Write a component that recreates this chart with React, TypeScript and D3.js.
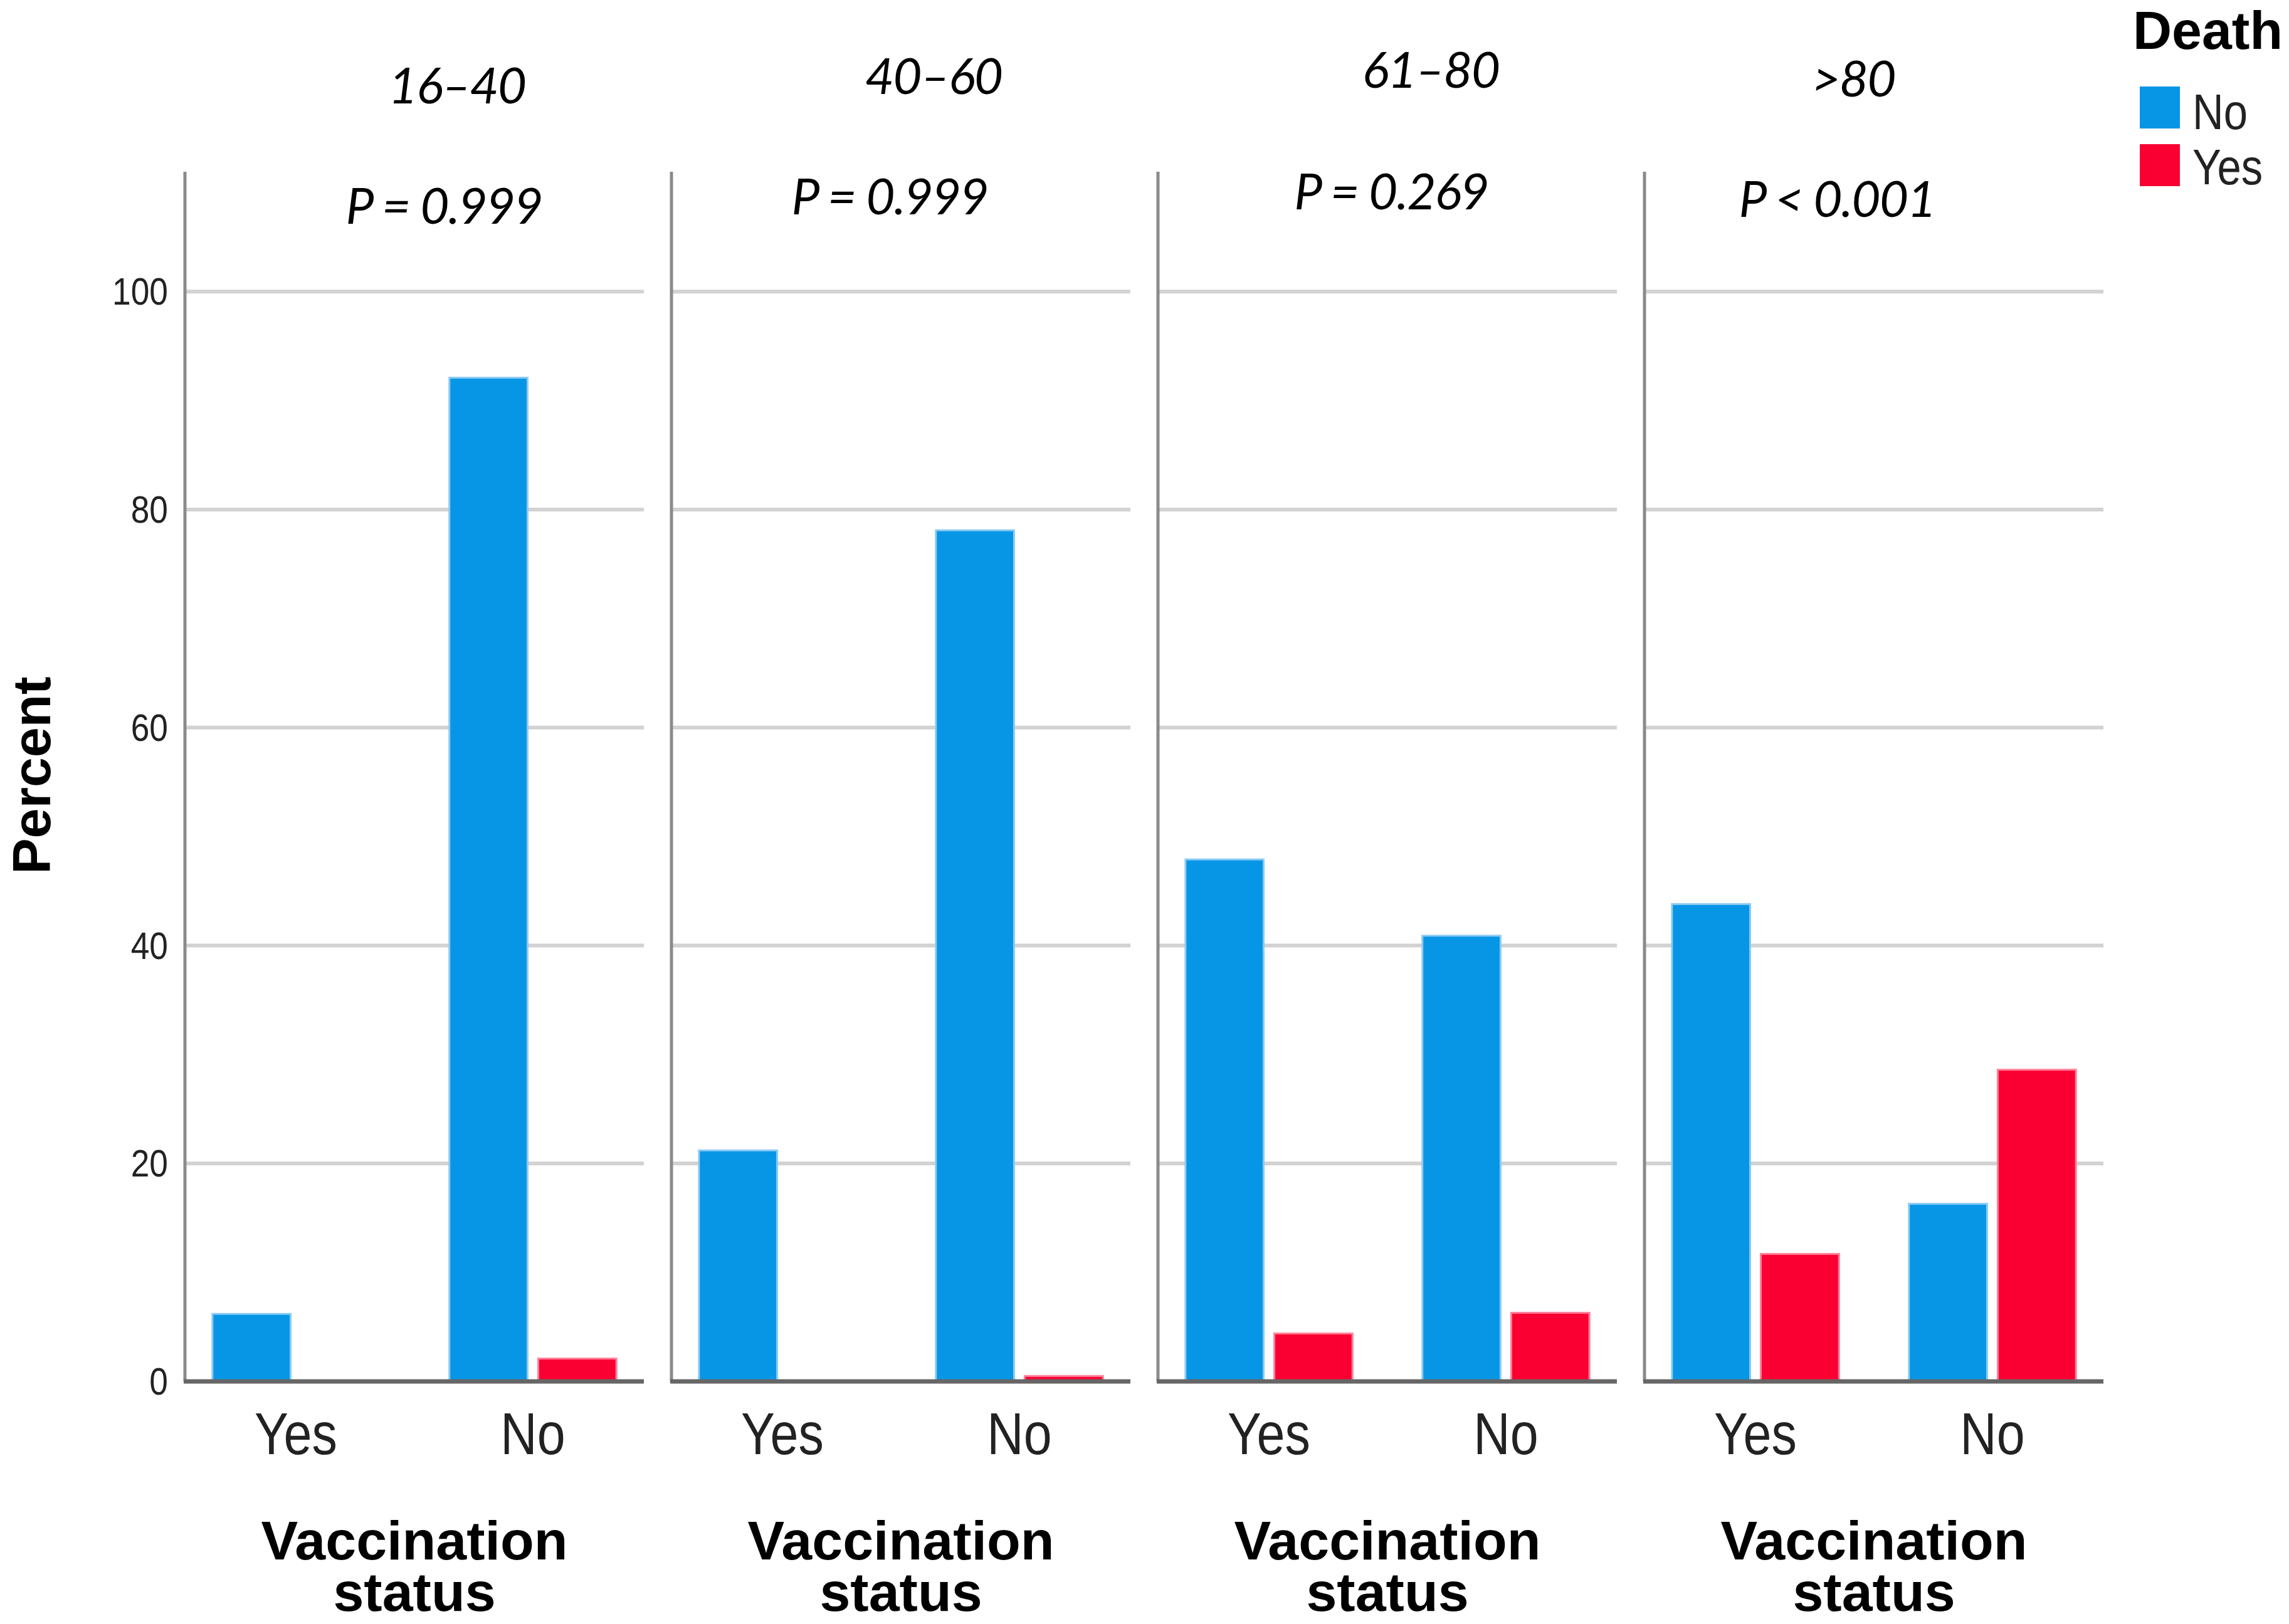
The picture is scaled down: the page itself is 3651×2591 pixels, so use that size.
import React from "react";
import * as d3 from "d3";

const ageGroups = ["16–40", "40–60", "61–80", ">80"];
const pLabels = ["P = 0.999", "P = 0.999", "P = 0.269", "P < 0.001"];
const vaccination = ["Yes", "No"];
const deathLevels = ["No", "Yes"];
// percent by panel, [vaccinated Yes, vaccinated No]
const deathNo = [
  [6.2, 92.1],
  [21.2, 78.1],
  [47.9, 40.9],
  [43.8, 16.3],
];
const deathYes = [
  [0, 2.1],
  [0, 0.5],
  [4.4, 6.3],
  [11.7, 28.6],
];
const yTicks = [0, 20, 40, 60, 80, 100];

// label nudges (px) relative to panel centre
const titleShift = [
  { dx: 68, y: 165 },
  { dx: 52, y: 150 },
  { dx: 69, y: 140 },
  { dx: -33, y: 154 },
];
const pShift = [
  { dx: 47, y: 357 },
  { dx: -18, y: 342 },
  { dx: 6, y: 334 },
  { dx: -59, y: 346 },
];

const W = 3651;
const H = 2591;
const colors: Record<string, string> = { No: "#0796E6", Yes: "#FA0032" };
const edge: Record<string, string> = { No: "#8CCBF3", Yes: "#FF7F99" };

const sans = "'Liberation Sans', Arial, sans-serif";
const italic = "Lato, 'Open Sans', sans-serif";

// condensed light-ish label (the SPSS output uses a narrow face)
const Narrow: React.FC<{
  x: number;
  y: number;
  size: number;
  anchor?: string;
  children: React.ReactNode;
}> = ({ x, y, size, anchor = "start", children }) => (
  <g transform={`translate(${x},${y}) scale(0.86,1)`}>
    <text
      textAnchor={anchor}
      fontFamily={sans}
      fontSize={size}
      fill="#222"
    >
      {children}
    </text>
  </g>
);

const App: React.FC = () => {
  const y = d3.scaleLinear().domain([0, 111]).range([2204, 274]);
  const panel = d3
    .scaleBand<string>()
    .domain(ageGroups)
    .range([295, 3355])
    .paddingInner(0.0567);
  const pw = panel.bandwidth();
  const group = d3
    .scaleBand<string>()
    .domain(vaccination)
    .range([0, pw])
    .paddingInner(0.295)
    .paddingOuter(0.116);
  const sub = d3
    .scaleBand<string>()
    .domain(deathLevels)
    .range([0, group.bandwidth()])
    .paddingInner(0.12);

  return (
    <svg
      width={W}
      height={H}
      style={{ position: "absolute", left: 0, top: 0, background: "#fff" }}
    >
      {/* y label */}
      <text
        transform={`translate(80,${1237}) rotate(-90)`}
        textAnchor="middle"
        fontFamily={sans}
        fontWeight="bold"
        fontSize={86}
        fill="#000"
      >
        Percent
      </text>

      {/* y ticks */}
      {yTicks.map((t) => (
        <Narrow key={t} x={268} y={y(t) + 21} size={62} anchor="end">
          {t}
        </Narrow>
      ))}

      {ageGroups.map((ag, i) => {
        const x0 = panel(ag) ?? 0;
        const cx = x0 + pw / 2;
        return (
          <g key={ag}>
            {/* grid */}
            {yTicks
              .filter((t) => t > 0)
              .map((t) => (
                <line
                  key={t}
                  x1={x0}
                  x2={x0 + pw}
                  y1={y(t)}
                  y2={y(t)}
                  stroke="#d2d2d2"
                  strokeWidth={6}
                />
              ))}
            {/* bars */}
            {vaccination.map((v, vi) =>
              deathLevels.map((d) => {
                const val = d === "No" ? deathNo[i][vi] : deathYes[i][vi];
                if (val <= 0) return null;
                const bx = x0 + (group(v) ?? 0) + (sub(d) ?? 0);
                return (
                  <rect
                    key={v + d}
                    x={bx}
                    y={y(val)}
                    width={sub.bandwidth()}
                    height={y(0) - y(val)}
                    fill={colors[d]}
                    stroke={edge[d]}
                    strokeWidth={3}
                  />
                );
              })
            )}
            {/* axes */}
            <line
              x1={x0}
              x2={x0}
              y1={y(111)}
              y2={y(0)}
              stroke="#8a8a8a"
              strokeWidth={5}
            />
            <line
              x1={x0 - 2}
              x2={x0 + pw}
              y1={y(0)}
              y2={y(0)}
              stroke="#666"
              strokeWidth={7}
            />
            {/* x tick labels */}
            {vaccination.map((v) => (
              <Narrow
                key={v}
                x={x0 + (group(v) ?? 0) + group.bandwidth() / 2}
                y={2320}
                size={94}
                anchor="middle"
              >
                {v}
              </Narrow>
            ))}
            <text
              x={cx}
              y={2488}
              textAnchor="middle"
              fontFamily={sans}
              fontWeight="bold"
              fontSize={88}
              fill="#000"
            >
              Vaccination
            </text>
            <text
              x={cx}
              y={2570}
              textAnchor="middle"
              fontFamily={sans}
              fontWeight="bold"
              fontSize={88}
              fill="#000"
            >
              status
            </text>
            {/* titles */}
            <text
              x={cx + titleShift[i].dx}
              y={titleShift[i].y}
              textAnchor="middle"
              fontFamily={italic}
              fontStyle="italic"
              fontSize={80}
              letterSpacing={-2}
              fill="#000"
            >
              {ag}
            </text>
            <text
              x={cx + pShift[i].dx}
              y={pShift[i].y}
              textAnchor="middle"
              fontFamily={italic}
              fontStyle="italic"
              fontSize={80}
              letterSpacing={-2}
              fill="#000"
            >
              {pLabels[i]}
            </text>
          </g>
        );
      })}

      {/* legend */}
      <text
        x={3402}
        y={78}
        fontFamily={sans}
        fontWeight="bold"
        fontSize={86}
        fill="#000"
      >
        Death
      </text>
      {deathLevels.map((d, i) => (
        <g key={d}>
          <rect
            x={3413}
            y={138 + i * 92}
            width={64}
            height={67}
            fill={colors[d]}
          />
          <Narrow x={3497} y={206 + i * 88} size={80}>
            {d}
          </Narrow>
        </g>
      ))}
    </svg>
  );
};

export default App;
